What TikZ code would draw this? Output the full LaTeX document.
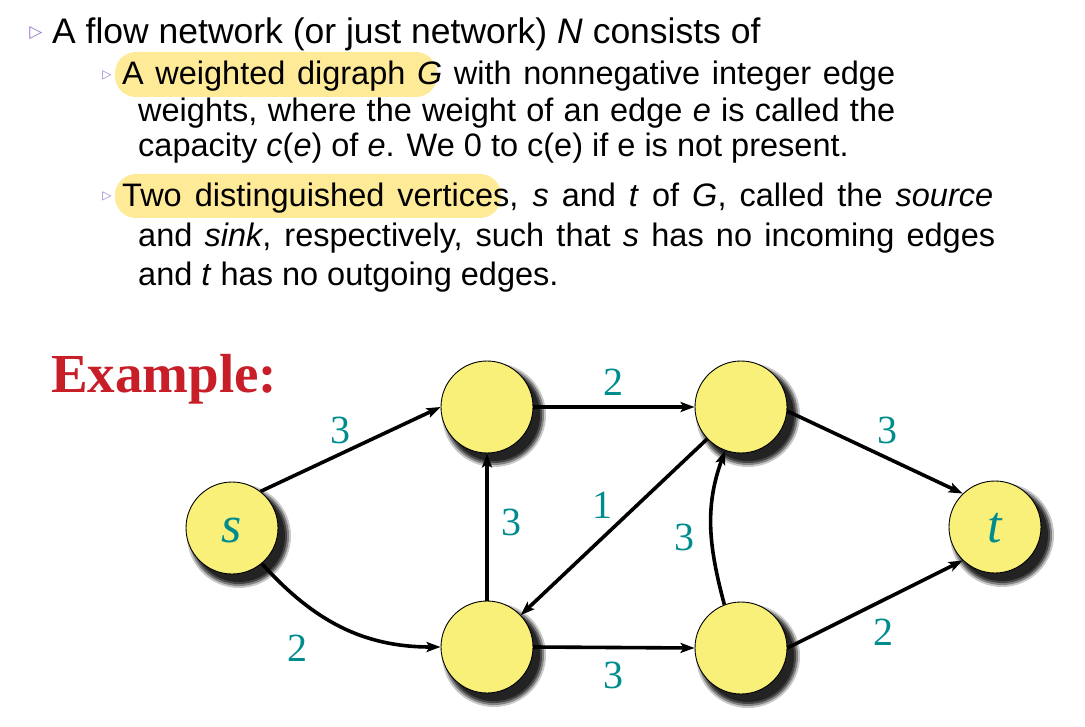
\documentclass[tikz,border=0pt]{standalone}
\usepackage{fontspec}
\setmainfont{Liberation Sans}
\newfontfamily\timesfont{Liberation Serif}
\newfontfamily\bulletfont{DejaVu Sans}
\usetikzlibrary{arrows.meta}
\definecolor{nodeyellow}{RGB}{249,240,122}
\definecolor{tealc}{RGB}{0,140,140}
\definecolor{exred}{RGB}{200,30,40}
\definecolor{hlyellow}{RGB}{255,234,152}
\definecolor{bulletc}{RGB}{150,120,200}
\definecolor{shA}{RGB}{200,200,200}
\definecolor{shB}{RGB}{130,130,130}
\definecolor{shC}{RGB}{70,70,70}
\definecolor{shD}{RGB}{35,35,35}
\tikzset{
  vtx/.style={circle, draw=black, line width=0.9pt, fill=nodeyellow, minimum size=92pt, inner sep=0pt},
  sh/.style={circle, inner sep=0pt, draw=none},
  wlab/.style={text=tealc, inner sep=0pt, font=\timesfont\fontsize{40}{48}\selectfont},
  vlab/.style={text=tealc, font=\timesfont\itshape\fontsize{52}{60}\selectfont},
  edge/.style={line width=3.6pt, -{Stealth[length=14pt,width=10pt,inset=3pt]}},
  txt/.style={anchor=base west, inner sep=0pt, font=\fontsize{32.5}{38}\selectfont},
  bul/.style={inner sep=0pt, text=bulletc},
  hlbox/.style={fill=hlyellow, rounded corners=21pt}
}
\newcommand{\myshadow}[3]{%
  \node[sh, fill=shA, minimum size=104pt] (#1a) at (#2+7,#3+8) {};
  \node[sh, fill=shB, minimum size=100pt] (#1b) at (#2+7,#3+8) {};
  \node[sh, fill=shC, minimum size=96pt] (#1c) at (#2+7,#3+8) {};
  \node[sh, fill=shD, minimum size=92pt] (#1d) at (#2+7,#3+8) {};
}
\begin{document}
\begin{tikzpicture}[x=1pt,y=-1pt]
\useasboundingbox (0,0) rectangle (1085,727);
% highlights
\fill[hlbox] (115,52) rectangle (437,97);
\fill[hlbox] (115,174) rectangle (501,218);
% bullets
\node[bul, font=\bulletfont\fontsize{17}{20}\selectfont] (b1) at (36,33) {▷};
\node[bul, font=\bulletfont\fontsize{12}{14}\selectfont] (b2) at (107,75) {▷};
\node[bul, font=\bulletfont\fontsize{12}{14}\selectfont] (b3) at (107,196) {▷};
% text
\node[txt, font=\fontsize{35.5}{44}\selectfont] (l1) at (52,44) {A flow network (or just network) \textit{N} consists of};
\node[txt] (l2) at (122,85) {\makebox[773pt][s]{A weighted digraph \textit{G} with nonnegative integer edge}};
\node[txt] (l3) at (138,122) {\makebox[757pt][s]{weights, where the weight of an edge \textit{e} is called the}};
\node[txt] (l4) at (138,157) {capacity \textit{c}(\textit{e}) of \textit{e}. We 0 to c(e) if e is not present.};
\node[txt] (l5) at (122,207) {\makebox[871pt][s]{Two distinguished vertices, \textit{s} and \textit{t} of \textit{G}, called the \textit{source}}};
\node[txt] (l6) at (138,247) {\makebox[857pt][s]{and \textit{sink}, respectively, such that \textit{s} has no incoming edges}};
\node[txt] (l7) at (138,286) {and \textit{t} has no outgoing edges.};
% Example
\node[anchor=base west, inner sep=0pt, text=exred, font=\timesfont\bfseries\fontsize{55}{60}\selectfont] (ex) at (51,393) {Example:};
% shadows
\myshadow{shs}{232}{528}
\myshadow{shA}{487}{407}
\myshadow{shB}{487}{647}
\myshadow{shC}{741}{407}
\myshadow{shD}{741}{648}
\myshadow{sht}{995}{527}
% vertices
\node[vtx] (s) at (232,528) {};
\node[vtx] (A) at (487,407) {};
\node[vtx] (B) at (487,647) {};
\node[vtx] (C) at (741,407) {};
\node[vtx] (D) at (741,648) {};
\node[vtx] (t) at (995,527) {};
\node[vlab] (sl) at (232,531) {s};
\node[vlab] (tl) at (995,528) {t};
% edges
\draw[edge] (s.52) -- (A.west);
\draw[edge] (s.-50) to[out=-48, in=180] (B.west);
\draw[edge] (A.east) -- (C.west);
\draw[edge] (B.north) -- (A.south);
\draw[edge] (C) -- (B);
\draw[edge] (B.east) -- (D.west);
\draw[edge] (D.111) to[out=105, in=250] (C.250);
\draw[edge] (C.-5) -- (t.134);
\draw[edge] (D.east) -- (t.226);
% weights
\node[wlab] (w1) at (340,430) {3};
\node[wlab] (w2) at (297,648) {2};
\node[wlab] (w3) at (613,382) {2};
\node[wlab] (w4) at (511,522) {3};
\node[wlab] (w5) at (602,505) {1};
\node[wlab] (w6) at (613,675) {3};
\node[wlab] (w7) at (684,537) {3};
\node[wlab] (w8) at (887,430) {3};
\node[wlab] (w9) at (883,632) {2};
\end{tikzpicture}
\end{document}
